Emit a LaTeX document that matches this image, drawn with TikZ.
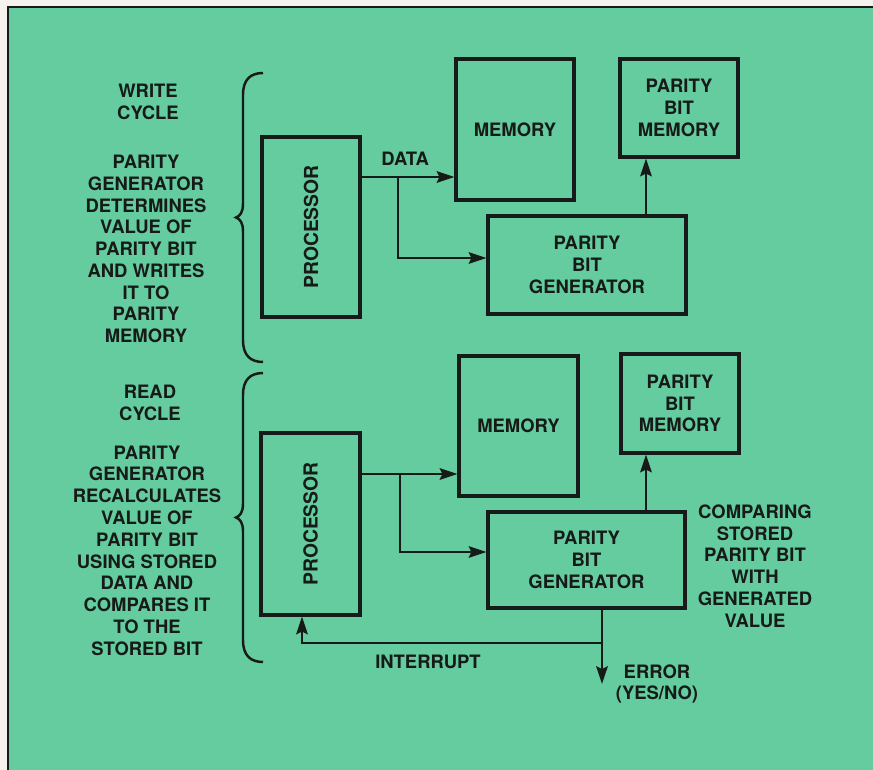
\documentclass[tikz,border=0pt]{standalone}
\usepackage{fontspec}
\usepackage{graphicx}
\setmainfont{TeX Gyre Heros}
\usetikzlibrary{arrows.meta, calc}
\definecolor{panel}{RGB}{100,204,158}
\definecolor{ink}{RGB}{22,26,24}
\definecolor{paper}{RGB}{246,243,238}

\begin{document}
\begin{tikzpicture}[
  x=0.02cm, y=-0.02cm,
  box/.style={draw=ink, line width=1.8pt, font=\fontsize{10.5}{12.4}\selectfont\bfseries, text=ink, align=center, inner sep=0pt},
  lbl/.style={font=\fontsize{10.5}{12.4}\selectfont\bfseries, text=ink, align=center, inner sep=0pt},
  arr/.style={-{Stealth[length=10pt, width=6.5pt, inset=1.5pt]}, line width=1.6pt, draw=ink},
  curl/.style={line width=1.4pt, draw=ink}
]

% --- Panel ---
\useasboundingbox (0,0) rectangle (873,770);
\fill[paper] (0,0) rectangle (873,770);
\fill[panel] (8,7) rectangle (873,770);
\draw[ink, line width=1.2pt] (8,770) -- (8,7) -- (873,7);

% --- Left-hand notes ---
\node[lbl] (wtitle) at (148,101.5) {WRITE\\CYCLE};
\node[lbl] (wnote) at (146,249) {PARITY\\GENERATOR\\DETERMINES\\VALUE OF\\PARITY BIT\\AND WRITES\\IT TO\\PARITY\\MEMORY};
\node[lbl] (rtitle) at (150,403) {READ\\CYCLE};
\node[lbl] (rnote) at (147,550.5) {PARITY\\GENERATOR\\RECALCULATES\\VALUE OF\\PARITY BIT\\USING STORED\\DATA AND\\COMPARES IT\\TO THE\\STORED BIT};

% --- Braces ---
\foreach \ya/\yb in {73/362, 373/662} {
  \pgfmathsetmacro{\ym}{(\ya+\yb)/2}
  \draw[curl] (263,\ya) .. controls (250,\ya) and (243,\ya+7) .. (243,\ya+22)
    -- (243,\ym-14) .. controls (243,\ym-5) and (240,\ym-1.5) .. (236,\ym)
    .. controls (240,\ym+1.5) and (243,\ym+5) .. (243,\ym+14)
    -- (243,\yb-22) .. controls (243,\yb-7) and (250,\yb) .. (263,\yb);
}

% --- Write cycle ---
\node[box, minimum width=1.96cm, minimum height=3.6cm] (wproc) at (311,227) {\rotatebox{90}{\fontsize{11}{13}\selectfont PROCESSOR}};
\node[box, minimum width=2.36cm, minimum height=2.82cm] (wmem) at (515,129.5) {MEMORY};
\node[box, minimum width=2.36cm, minimum height=1.96cm] (wpbm) at (679,108) {PARITY\\BIT\\MEMORY};
\node[box, minimum width=3.96cm, minimum height=1.96cm] (wgen) at (587,265) {PARITY\\BIT\\GENERATOR};

\coordinate (wsplit) at (398,177);
\coordinate (wbend) at (398,258);
\coordinate (wtap) at (646,0);
\draw[arr] (wproc.east |- wsplit) -- node[lbl, above=6pt, pos=0.47] (wdata) {DATA} (wmem.west |- wsplit);
\draw[arr] (wsplit) -- (wbend) -- (wgen.west |- wbend);
\draw[arr] (wgen.north -| wtap) -- (wpbm.south -| wtap);

% --- Read cycle ---
\node[box, minimum width=1.98cm, minimum height=3.64cm] (rproc) at (310.5,524) {\rotatebox{90}{\fontsize{11}{13}\selectfont PROCESSOR}};
\node[box, minimum width=2.38cm, minimum height=2.8cm] (rmem) at (518.5,426) {MEMORY};
\node[box, minimum width=2.36cm, minimum height=1.98cm] (rpbm) at (680,403.5) {PARITY\\BIT\\MEMORY};
\node[box, minimum width=3.94cm, minimum height=1.92cm] (rgen) at (586.5,560) {PARITY\\BIT\\GENERATOR};

\coordinate (rsplit) at (400,474);
\coordinate (rbend) at (400,552);
\coordinate (rtap) at (646,0);
\coordinate (rjoin) at (602,643);
\coordinate (rerr) at (602,684);
\coordinate (rint) at (302,643);
\draw[arr] (rproc.east |- rsplit) -- (rmem.west |- rsplit);
\draw[arr] (rsplit) -- (rbend) -- (rgen.west |- rbend);
\draw[arr] (rgen.north -| rtap) -- (rpbm.south -| rtap);
\draw[arr] (rgen.south -| rjoin) -- (rerr);
\draw[arr] (rjoin) -- (rint) -- (rproc.south -| rint);

\node[lbl] (rintlbl) at (428,662) {INTERRUPT};
\node[lbl] (rerrlbl) at (657,684) {ERROR\\(YES/NO)};
\node[lbl] (rcmp) at (755,566) {COMPARING\\STORED\\PARITY BIT\\WITH\\GENERATED\\VALUE};

\end{tikzpicture}
\end{document}
